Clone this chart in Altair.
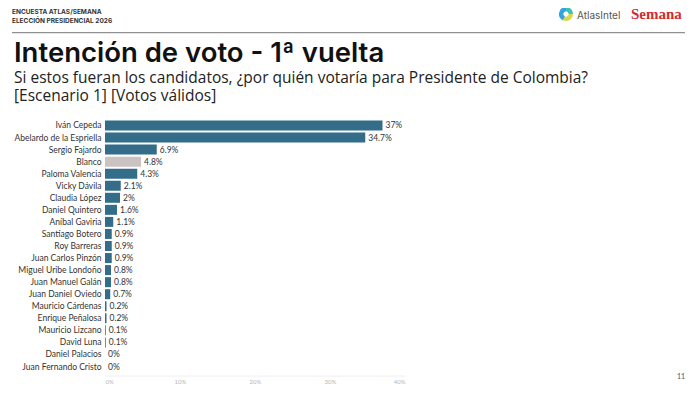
import altair as alt
import pandas as pd

names = ["Iván Cepeda", "Abelardo de la Espriella", "Sergio Fajardo", "Blanco",
         "Paloma Valencia", "Vicky Dávila", "Claudia López", "Daniel Quintero",
         "Aníbal Gaviria", "Santiago Botero", "Roy Barreras", "Juan Carlos Pinzón",
         "Miguel Uribe Londoño", "Juan Manuel Galán", "Juan Daniel Oviedo",
         "Mauricio Cárdenas", "Enrique Peñalosa", "Mauricio Lizcano", "David Luna",
         "Daniel Palacios", "Juan Fernando Cristo"]
values = [37, 34.7, 6.9, 4.8, 4.3, 2.1, 2, 1.6, 1.1, 0.9, 0.9, 0.9, 0.8, 0.8, 0.7,
          0.2, 0.2, 0.1, 0.1, 0, 0]
x_ticks = [0, 10, 20, 30, 40]

header_top = ["ENCUESTA ATLAS/SEMANA", "ELECCIÓN PRESIDENCIAL 2026"]
title_text = "Intención de voto - 1ª vuelta"
subtitle_lines = ["Si estos fueran los candidatos, ¿por quién votaría para Presidente de Colombia?",
                  "[Escenario 1] [Votos válidos]"]
page_number = "11"

BLUE = "#336d8a"
GRAY = "#cbc3c1"

df = pd.DataFrame({"name": names, "v": values})

base = alt.Chart(df).transform_calculate(
    label="format(datum.v, '.1~f') + '%'"
)

yenc = alt.Y("name:N", sort=names, title=None,
             scale=alt.Scale(paddingInner=0.17, paddingOuter=0.33),
             axis=alt.Axis(domain=False, ticks=False, labelFontSize=8.5,
                           labelFont="Lato", labelColor="#333333", labelPadding=4))
xenc = alt.X("v:Q", title=None, scale=alt.Scale(domain=[0, 40], nice=False),
             axis=alt.Axis(values=x_ticks, labelExpr="datum.value + '%'",
                           grid=False, ticks=False, domainColor="#eeeeee",
                           labelFontSize=6, labelFont="Lato", labelColor="#b5b5b5",
                           labelPadding=3))

bars = base.mark_bar().encode(
    x=xenc, y=yenc,
    color=alt.condition(alt.datum.name == "Blanco", alt.value(GRAY), alt.value(BLUE)),
)
labels = base.mark_text(align="left", baseline="middle", dx=3, font="Lato",
                        fontSize=8.5, color="#333333").encode(
    x="v:Q", y=alt.Y("name:N", sort=names), text="label:N")


def txt(s, x, y, size, font, color, weight="normal"):
    return alt.Chart(pd.DataFrame({"t": [s]})).mark_text(
        align="left", baseline="alphabetic", fontSize=size, font=font,
        color=color, fontWeight=weight).encode(
        x=alt.value(x), y=alt.value(y), text="t:N")


h1 = txt(header_top[0], -93, -103, 6.5, "Inter", "#333333", "bold")
h2 = txt(header_top[1], -93, -93.7, 6.5, "Inter", "#333333", "bold")
rule = alt.Chart(pd.DataFrame({"a": [0]})).mark_rule(color="#777777", strokeWidth=1).encode(
    x=alt.value(-93), x2=alt.value(580), y=alt.value(-83.8))
t1 = txt(title_text, -91, -54.5, 27.5, "Inter", "#111111", 600)
s1 = txt(subtitle_lines[0], -91, -34, 15.5, "Open Sans", "#222222")
s2 = txt(subtitle_lines[1], -91, -15.5, 15.5, "Open Sans", "#222222")
atlas = txt("AtlasIntel", 472, -98, 10, "Inter", "#555555")
semana = txt("Semana", 526, -97.5, 15, "Liberation Serif", "#d42a2e", "bold")
pnum = txt(page_number, 572, 262.5, 7, "Lato", "#555555")

arc_df = pd.DataFrame({"a": [0]})
arcs = []
for t0, t1_, c in [(0, 1.6, "#3ec1b0"), (1.6, 3.6, "#dcd64a"), (3.6, 6.2832, "#35a4dc")]:
    arcs.append(alt.Chart(arc_df).mark_arc(theta=t0, theta2=t1_, innerRadius=2.5,
                                           outerRadius=7, color=c).encode(
        x=alt.value(461), y=alt.value(-102.5)))
diamond = alt.Chart(arc_df).mark_point(shape="diamond", filled=True, color="white",
                                       size=30, opacity=1).encode(
    x=alt.value(461), y=alt.value(-102.5))

chart = alt.layer(bars, labels, h1, h2, rule, t1, s1, s2, atlas, semana, pnum,
                  *arcs, diamond).properties(
    width=300, height=259,
    autosize=alt.AutoSizeParams(type="none"),
    padding={"left": 97, "top": 108.5, "right": 287, "bottom": 10},
    background="white",
).configure_view(stroke=None)

chart.save("out.html", embed_options={"renderer": "svg", "actions": False})
